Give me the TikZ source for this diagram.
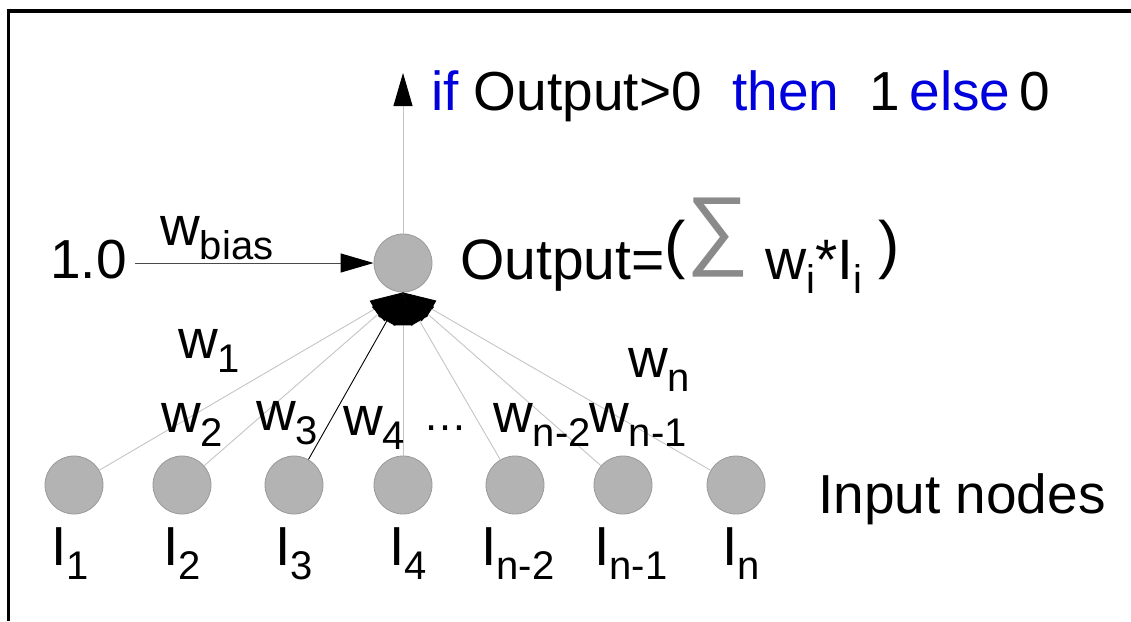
\documentclass[tikz,border=0pt]{standalone}
\usepackage{fontspec}
\setmainfont{Liberation Sans}
\usetikzlibrary{arrows.meta}
\definecolor{unitfill}{HTML}{B3B3B3}
\definecolor{unitedge}{HTML}{9A9A9A}
\definecolor{wiregray}{HTML}{C4C4C4}
\definecolor{biasgray}{HTML}{4A4A4A}
\definecolor{kwblue}{HTML}{0000DD}
\definecolor{sumgray}{HTML}{8A8A8A}
\newcommand{\sub}[1]{\raisebox{-14pt}{\fontsize{40}{40}\selectfont #1}}
\newcommand{\kw}[1]{\textcolor{kwblue}{#1}}
\newcommand{\bigpar}[1]{\raisebox{13pt}{\fontsize{64}{64}\selectfont #1}}

\begin{document}
\begin{tikzpicture}[x=1pt,y=-1pt,font=\fontsize{55}{60}\selectfont,
  unit/.style={circle,fill=unitfill,draw=unitedge,line width=0.8pt,
               minimum size=58pt,inner sep=0pt},
  lbl/.style={anchor=base west,inner sep=0pt},
  wire/.style={draw=wiregray,line width=0.9pt},
  head/.style={-{Triangle[length=33pt,width=19pt,color=black]}}]
\useasboundingbox (0,0) rectangle (1131,621);

% frame, cut off at right and bottom
\draw[line width=3.5pt] (8.5,621) |- (1131,11);

% output unit
\node[unit] (out) at (403,263) {};
\coordinate (outtip) at (403,73);
\draw[wire,head] (out.north) -- (outtip);
\node[lbl] (rule) at (431,110)
  {\kw{if} Output>0~~\kw{then}~~1\hspace{9pt}\kw{else}\hspace{9pt}0};
\node[lbl,font=\fontsize{57}{64}\selectfont] (sum) at (460,279)
  {Output=\bigpar{(}\hspace{1pt}\raisebox{21pt}{\textcolor{sumgray}{\fontsize{88}{88}\selectfont ∑}} w\sub{i}*I\sub{i} \bigpar{)}};

% bias input
\node[lbl] (one) at (50,278) {1.0};
\draw[draw=biasgray,line width=1pt,head] ([xshift=8pt]one.east |- out) -- (out);
\node[lbl] (wbias) at (160,245) {w\sub{bias}};

% input units
\foreach \i/\x in {1/74,2/182,3/294,4/403,5/515,6/623,7/736}{
  \node[unit] (in\i) at (\x,485) {};
}
\foreach \i in {1,2,4,5,6,7}{
  \draw[wire,head] (in\i) -- (out.south);
}
\draw[draw=black,line width=0.9pt,head] (in3) -- (out.south);

\foreach \i/\x/\s in {1/51/1,2/163/2,3/275/3,4/389/4,5/481/n-2,6/594/n-1,7/722/n}{
  \node[lbl] (lab\i) at (\x,565) {I\sub{\s}};
}
\node[lbl] (inputs) at (818,513) {Input nodes};

% weights
\node[lbl] (w1) at (178,358) {w\sub{1}};
\node[lbl] (w2) at (161,432) {w\sub{2}};
\node[lbl] (w3) at (256,430) {w\sub{3}};
\node[lbl] (w4) at (343,435) {w\sub{4}};
\node[lbl,font=\fontsize{44}{50}\selectfont] (dots) at (423,430) {…};
\node[lbl] (wn2) at (493,432) {w\sub{n-2}};
\node[lbl] (wn1) at (589,432) {w\sub{n-1}};
\node[lbl] (wn) at (628,377) {w\sub{n}};

\end{tikzpicture}
\end{document}
